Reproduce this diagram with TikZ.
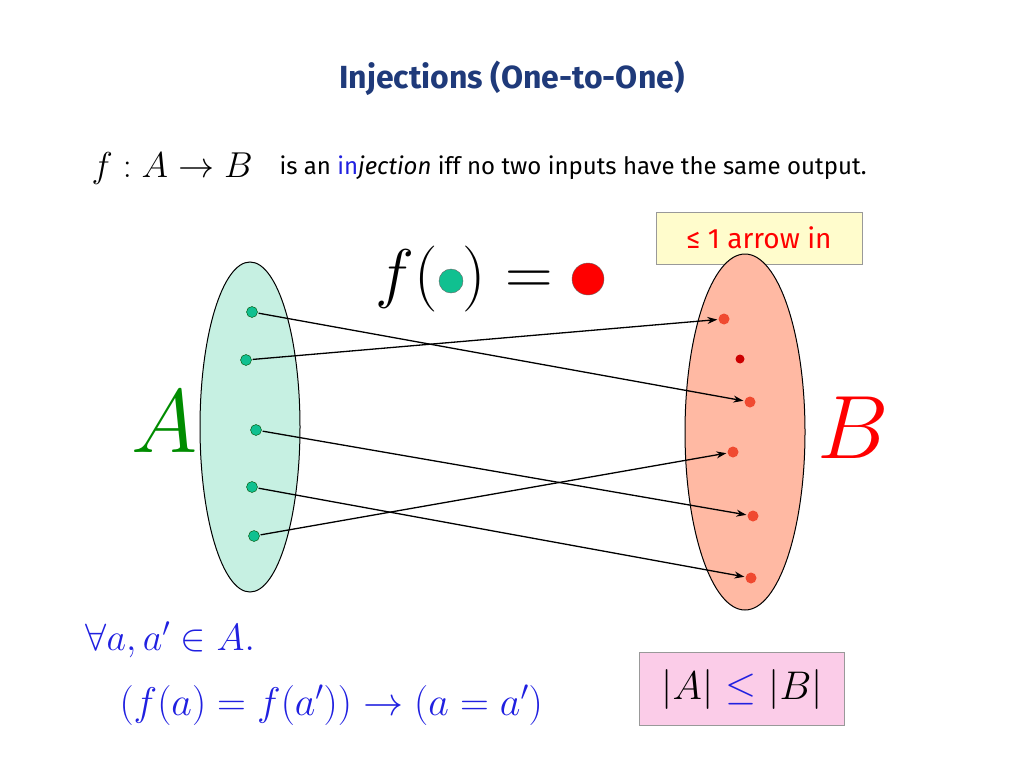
\RequirePackage{fix-cm}
\documentclass[tikz,border=0pt]{standalone}
\usepackage{fontspec}
\newfontfamily\comic{Fira Sans}
\usetikzlibrary{arrows.meta}
\definecolor{ttl}{HTML}{1F3A7A}
\definecolor{mblue}{HTML}{2020E0}
\definecolor{afill}{HTML}{C6F0E2}
\definecolor{bfill}{HTML}{FFB9A3}
\definecolor{adot}{HTML}{10C090}
\definecolor{bdot}{HTML}{F04A30}
\begin{document}
\begin{tikzpicture}[x=1pt,y=-1pt,
  ad/.style={circle,draw=black!70!green,fill=adot,inner sep=0,minimum size=11pt},
  bd/.style={circle,fill=bdot,inner sep=0,minimum size=11pt},
  big/.style={font=\fontsize{66}{66}\selectfont,inner sep=0},
  arr/.style={-{Stealth[length=10pt,width=7pt]},line width=1.3pt,shorten <=1pt,shorten >=1pt}]
\useasboundingbox (0,0) rectangle (1024,768);
\node[font=\comic\bfseries\fontsize{32}{34}\selectfont,text=ttl] (t) at (512,78) {Injections (One-to-One)};
\node[anchor=west,font=\fontsize{36}{38}\selectfont] (fab) at (88,168) {$f:A\rightarrow B$};
\node[anchor=west,font=\comic\fontsize{24}{26}\selectfont] (txt) at (276,168) {is an \textcolor{mblue}{in}\textit{jection} iff no two inputs have the same output.};
\node[draw=black!40,fill=yellow!20,minimum width=206pt,minimum height=52pt,font=\comic\fontsize{28}{30}\selectfont,text=red] (box1) at (759,238) {≤ 1 arrow in};
\node[big,anchor=east] (fp) at (438,279) {$f($};
\node[big] (cp) at (474,279) {$)$};
\node[big] (eq) at (529,283) {$=$};
\node[circle,draw=black!60,fill=adot,inner sep=0,minimum size=24pt] (g) at (451,281) {};
\node[circle,draw=black!60,fill=red,inner sep=0,minimum size=32pt] (r) at (588,279) {};
\draw[fill=afill,line width=1pt] (250,427) ellipse (50 and 165);
\draw[fill=bfill,line width=1pt] (745,432) ellipse (60 and 178);
\node[font=\fontsize{90}{90}\selectfont,text=green!55!black] (A) at (165,422) {$A$};
\node[font=\fontsize{90}{90}\selectfont,text=red] (B) at (853,428) {$B$};
\node[ad] (a1) at (252,312) {};
\node[ad] (a2) at (246,360) {};
\node[ad] (a3) at (256,430) {};
\node[ad] (a4) at (252,487) {};
\node[ad] (a5) at (254,536) {};
\node[bd] (b1) at (724,319) {};
\node[circle,fill=red!80!black,inner sep=0,minimum size=9pt] (b2) at (740,359) {};
\node[bd] (b3) at (750,402) {};
\node[bd] (b4) at (733,452) {};
\node[bd] (b5) at (753,516) {};
\node[bd] (b6) at (751,578) {};
\draw[arr] (a1) -- (b3);
\draw[arr] (a2) -- (b1);
\draw[arr] (a3) -- (b5);
\draw[arr] (a4) -- (b6);
\draw[arr] (a5) -- (b4);
\node[anchor=west,text=mblue,font=\fontsize{38}{40}\selectfont] (q1) at (82,640) {$\forall a,a'\in A.$};
\node[anchor=west,text=mblue,font=\fontsize{40}{42}\selectfont] (q2) at (116,705) {$(f(a)=f(a'))\rightarrow(a=a')$};
\node[draw=black!40,fill=magenta!20,minimum width=205pt,minimum height=73pt,font=\fontsize{40}{42}\selectfont] (box2) at (742,689) {$|A|\ \textcolor{mblue}{\le}\ |B|$};
\end{tikzpicture}
\end{document}
